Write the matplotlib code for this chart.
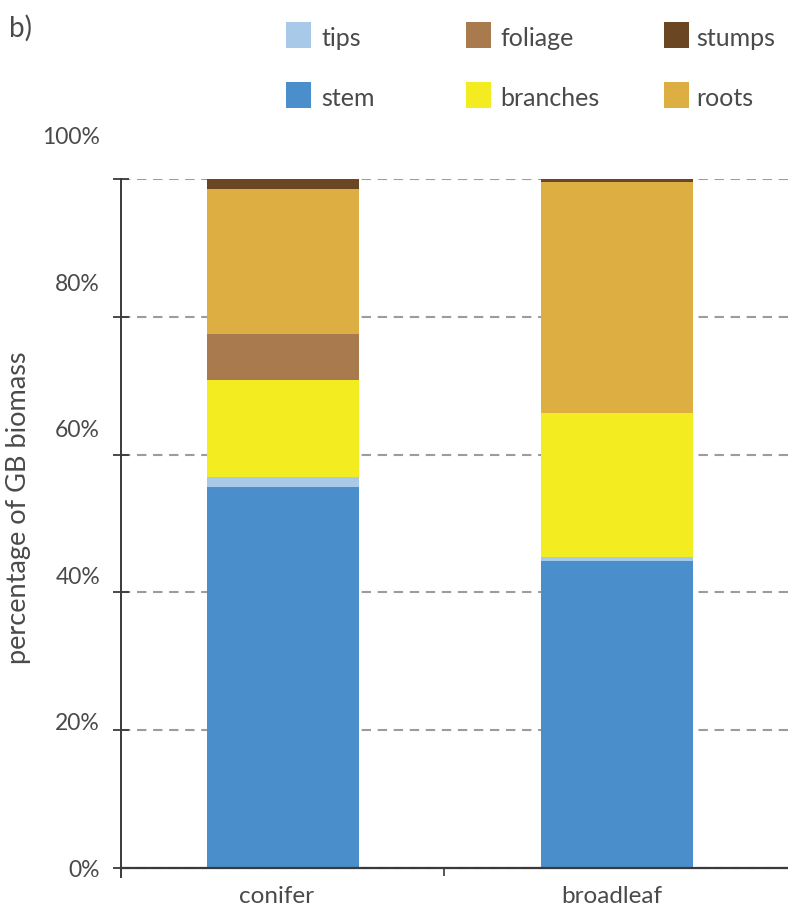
import numpy as np
import matplotlib
matplotlib.use("Agg")
import matplotlib.pyplot as plt
from matplotlib.patches import Rectangle
from matplotlib.transforms import ScaledTranslation

plt.rcParams['font.family'] = ['Lato', 'DejaVu Sans']

# biomass share (%) of each tree component, stacked bottom to top
forest_types = ["conifer", "broadleaf"]
stem = [55.3, 44.6]
tips = [1.5, 0.5]
branches = [14.1, 20.9]
foliage = [6.6, 0.0]
roots = [21.1, 33.5]
stumps = [1.4, 0.5]

y_ticks = [0, 20, 40, 60, 80, 100]
y_tick_labels = ["0%", "20%", "40%", "60%", "80%", "100%"]

components = [
    ("stem", stem, "#4a8fcc"),
    ("tips", tips, "#a9c9e9"),
    ("branches", branches, "#f3ec20"),
    ("foliage", foliage, "#a97a4e"),
    ("roots", roots, "#ddae41"),
    ("stumps", stumps, "#6b4623"),
]

text_col = "#4a4a4a"
axis_col = "#3a3a3a"

fig = plt.figure(figsize=(7.88, 9.11), dpi=100)
ax = fig.add_axes([0.1536, 0.0373, 0.8464, 0.7662])

x = np.arange(len(forest_types))
bottom = np.zeros(len(forest_types))
colors = {}
for name, vals, col in components:
    ax.bar(x, vals, width=0.454, bottom=bottom, color=col, linewidth=0, zorder=3)
    bottom += np.array(vals)
    colors[name] = col

ax.set_xlim(-0.484, 1.51)
ax.set_ylim(-1.3, 100)

# axes frame
for s in ["top", "right"]:
    ax.spines[s].set_visible(False)
ax.spines["left"].set_color(axis_col)
ax.spines["left"].set_linewidth(1.4)
ax.spines["bottom"].set_position(("data", 0))
ax.spines["bottom"].set_color(axis_col)
ax.spines["bottom"].set_linewidth(1.6)
ax.spines["bottom"].set_zorder(4)

# dashed gridlines
ax.set_yticks(y_ticks)
ax.set_yticklabels([])
ax.tick_params(axis="y", direction="inout", length=11, width=1.3, color=axis_col)
ax.yaxis.grid(True, color="#9c9c9c", linewidth=1.5, linestyle=(0, (4.5, 3.2)), zorder=0)
ax.set_axisbelow(True)

# y labels sit on a slightly wider spacing than the gridlines
for v, lab in zip(y_ticks, y_tick_labels):
    ax.text(-0.0315, v * 1.063 - 0.3, lab, transform=ax.get_yaxis_transform(),
            ha="right", va="center", fontsize=16.5, color=text_col)

ax.set_xticks(x)
ax.set_xticklabels(forest_types, fontsize=17.5, color=text_col)
ax.tick_params(axis="x", which="major", length=0, pad=13)
shift = ScaledTranslation(-6 / 100, 0, fig.dpi_scale_trans)
for lab in ax.get_xticklabels():
    lab.set_transform(lab.get_transform() + shift)
ax.set_xticks([0.483], minor=True)
ax.tick_params(axis="x", which="minor", direction="out", length=6, width=1.2, color=axis_col)

fig.text(19 / 788, 1 - 508 / 911, "percentage of GB biomass", rotation=90,
         ha="center", va="center", fontsize=19.5, color=text_col)
fig.text(9 / 788, 1 - 28 / 911, "b)", ha="left", va="center", fontsize=20, color=text_col)

# legend: two rows of three
legend_rows = [["tips", "foliage", "stumps"], ["stem", "branches", "roots"]]
patch_x = [286, 466, 664]
label_x = [321, 500, 696]
row_y = [35, 95]
for r, row in enumerate(legend_rows):
    for c, name in enumerate(row):
        fig.add_artist(Rectangle(((patch_x[c]) / 788, 1 - (row_y[r] + 13) / 911),
                                 25 / 788, 26 / 911, transform=fig.transFigure,
                                 facecolor=colors[name], edgecolor="none"))
        fig.text(label_x[c] / 788, 1 - (row_y[r] + 3) / 911, name, ha="left", va="center",
                 fontsize=18, color=text_col)

fig.savefig("out.png", dpi=100)
